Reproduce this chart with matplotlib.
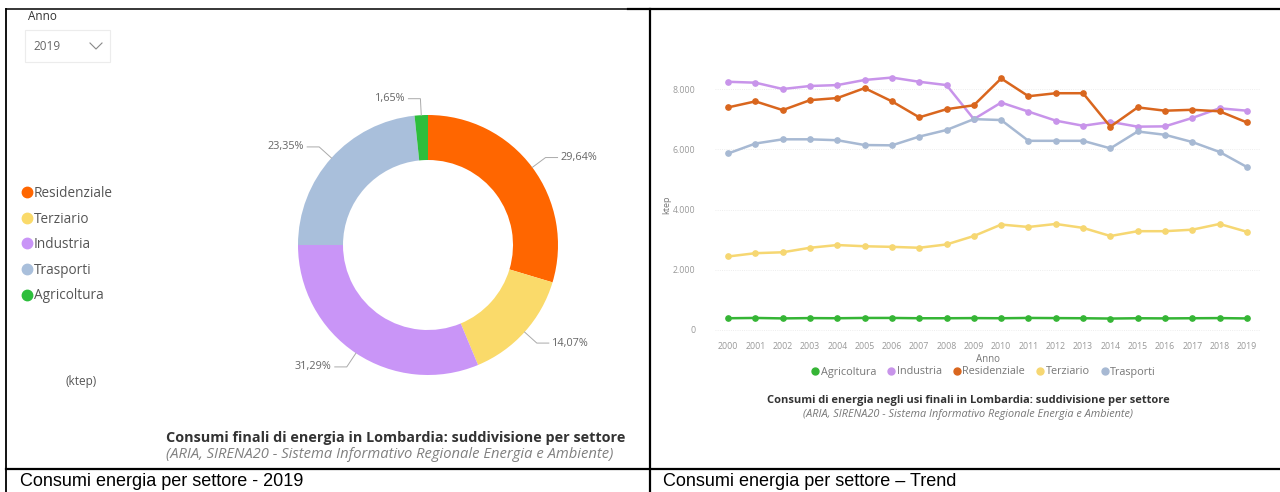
import numpy as np
import matplotlib
matplotlib.use('Agg')
import matplotlib.pyplot as plt
from matplotlib.lines import Line2D
from matplotlib.patches import Rectangle
from matplotlib.ticker import FuncFormatter

plt.rcParams['font.family'] = ['Open Sans', 'DejaVu Sans']

# donut 2019
sectors = ['Residenziale', 'Terziario', 'Industria', 'Trasporti', 'Agricoltura']
shares_2019 = [29.64, 14.07, 31.29, 23.35, 1.65]
donut_colors = ['#FF6600', '#FADA6A', '#C995F7', '#A9BFDB', '#2DBE3C']

# trend 2000-2019 (ktep)
years = list(range(2000, 2020))
agricoltura = [390, 400, 385, 395, 390, 400, 400, 390, 390, 395,
               390, 400, 395, 390, 380, 390, 385, 390, 395, 384]
industria = [8240, 8210, 8000, 8100, 8130, 8300, 8380, 8240, 8130, 7000,
             7550, 7250, 6950, 6780, 6910, 6750, 6760, 7040, 7360, 7280]
residenziale = [7390, 7590, 7300, 7630, 7700, 8030, 7590, 7060, 7330, 7460,
                8350, 7760, 7860, 7860, 6750, 7390, 7280, 7310, 7260, 6890]
terziario = [2440, 2550, 2580, 2730, 2820, 2780, 2760, 2730, 2840, 3120,
             3500, 3420, 3520, 3390, 3120, 3280, 3280, 3330, 3520, 3260]
trasporti = [5860, 6190, 6330, 6330, 6300, 6140, 6130, 6420, 6640, 7000,
             6970, 6280, 6280, 6280, 6030, 6590, 6480, 6240, 5910, 5410]
trend_names = ['Agricoltura', 'Industria', 'Residenziale', 'Terziario', 'Trasporti']
trend_colors = ['#35B535', '#C894EA', '#D9661E', '#F6D772', '#A7B9D3']

W, H = 1280, 492
fig = plt.figure(figsize=(W / 100, H / 100), dpi=100)


def fx(px):
    return px / W


def fy(py):
    return 1 - py / H


# ---- table borders
for (x0, y0, x1, y1, lw) in [(6, 9, 628, 9, 1.1), (628, 9, 1280, 9, 1.6),
                             (6, 9, 6, 492, 1.3), (650, 9, 650, 492, 1.6),
                             (6, 469, 1280, 469, 1.6)]:
    fig.add_artist(Line2D([fx(x0), fx(x1)], [fy(y0), fy(y1)], color='black', lw=lw))

fig.text(fx(20), fy(473), 'Consumi energia per settore - 2019', fontsize=13,
         family='Liberation Sans', va='top', ha='left')
fig.text(fx(663), fy(473), 'Consumi energia per settore \u2013 Trend', fontsize=13,
         family='Liberation Sans', va='top', ha='left')

# ---- left panel: slicer
fig.text(fx(28), fy(16), 'Anno', fontsize=8.5, color='#333333', va='center')
fig.add_artist(Rectangle((fx(25), fy(62)), fx(85), fy(0) - fy(32), fill=False,
                         edgecolor='#ececec', lw=0.8))
fig.text(fx(33), fy(47), '2019', fontsize=8.5, color='#666666', va='center')
fig.add_artist(Line2D([fx(90), fx(96), fx(102)], [fy(43), fy(49), fy(43)],
                      color='#888888', lw=0.8))

# ---- donut
ax_pie = fig.add_axes([fx(278), fy(395), fx(300), fy(0) - fy(300)])
R = 130 / 150
wedges, _ = ax_pie.pie(shares_2019, colors=donut_colors, startangle=90,
                       counterclock=False, radius=R,
                       wedgeprops=dict(width=45 / 150, edgecolor='none'))
ax_pie.set_xlim(-1, 1)
ax_pie.set_ylim(-1, 1)
ax_pie.set_aspect('equal')
for w, v in zip(wedges, shares_2019):
    ang = np.deg2rad((w.theta1 + w.theta2) / 2)
    c, s = np.cos(ang), np.sin(ang)
    p0 = (R * c, R * s)
    p1 = ((R + 0.11) * c, (R + 0.11) * s)
    side = 1 if c >= 0 else -1
    p2 = (p1[0] + side * 0.08, p1[1])
    ax_pie.add_line(Line2D([p0[0], p1[0], p2[0]], [p0[1], p1[1], p2[1]],
                           color='#aaaaaa', lw=0.7, clip_on=False))
    ax_pie.text(p2[0] + side * 0.02, p2[1], ('%.2f%%' % v).replace('.', ','),
                fontsize=7.8, color='#666666', va='center',
                ha='left' if side > 0 else 'right', clip_on=False)

handles = [Line2D([], [], marker='o', linestyle='', color=c, markersize=7.5)
           for c in donut_colors]
fig.legend(handles, sectors, loc='upper left', bbox_to_anchor=(fx(20), fy(186)),
           frameon=False, fontsize=9.8, handletextpad=0.0, handlelength=1.0,
           labelspacing=0.78, labelcolor='#555555', borderaxespad=0, borderpad=0)

fig.text(fx(65), fy(382), '(ktep)', fontsize=8.5, color='#555555', va='center')
fig.text(fx(396), fy(438), 'Consumi finali di energia in Lombardia: suddivisione per settore',
         fontsize=10.4, fontweight='bold', color='#333333', ha='center', va='center')
fig.text(fx(390), fy(455), '(ARIA, SIRENA20 - Sistema Informativo Regionale Energia e Ambiente)',
         fontsize=10.6, style='italic', color='#808080', ha='center', va='center')

# ---- right panel: trend
ax = fig.add_axes([fx(715), fy(335), fx(545), fy(0) - fy(260)])
series = [agricoltura, industria, residenziale, terziario, trasporti]
for vals, name, col in zip(series, trend_names, trend_colors):
    ax.plot(years, vals, color=col, lw=1.8, marker='o', markersize=3.8, label=name)
ax.set_xlim(1999.52, 2019.48)
ax.set_ylim(-166, 8465)
ax.set_xticks(years)
ax.set_yticks([0, 2000, 4000, 6000, 8000])
ax.yaxis.set_major_formatter(FuncFormatter(lambda v, p: f'{int(v):,}'.replace(',', '.')))
ax.tick_params(axis='x', length=0, labelsize=6.3, labelcolor='#999999', pad=5)
ax.tick_params(axis='y', length=0, labelsize=6.3, labelcolor='#999999', pad=14)
ax.grid(axis='y', color='#e8e8e8', lw=0.6, ls=':')
for sp in ax.spines.values():
    sp.set_visible(False)
ax.set_xlabel('Anno', fontsize=7, color='#777777', labelpad=2)
ax.set_ylabel('ktep', fontsize=6.5, color='#777777', labelpad=1)
leg = ax.legend(loc='center', ncol=5, frameon=False, fontsize=7.8,
                handletextpad=0.0, handlelength=1.0, columnspacing=0.9,
                labelcolor='#777777')
for h in leg.legend_handles:
    h.set_linestyle('')
    h.set_markersize(5)
leg.set_bbox_to_anchor((fx(983), fy(372)), transform=fig.transFigure)

fig.text(fx(968), fy(401), 'Consumi di energia negli usi finali in Lombardia: suddivisione per settore',
         fontsize=8.0, fontweight='bold', color='#333333', ha='center', va='center')
fig.text(fx(968), fy(415), '(ARIA, SIRENA20 - Sistema Informativo Regionale Energia e Ambiente)',
         fontsize=7.8, style='italic', color='#777777', ha='center', va='center')

fig.savefig('out.png', dpi=100)
